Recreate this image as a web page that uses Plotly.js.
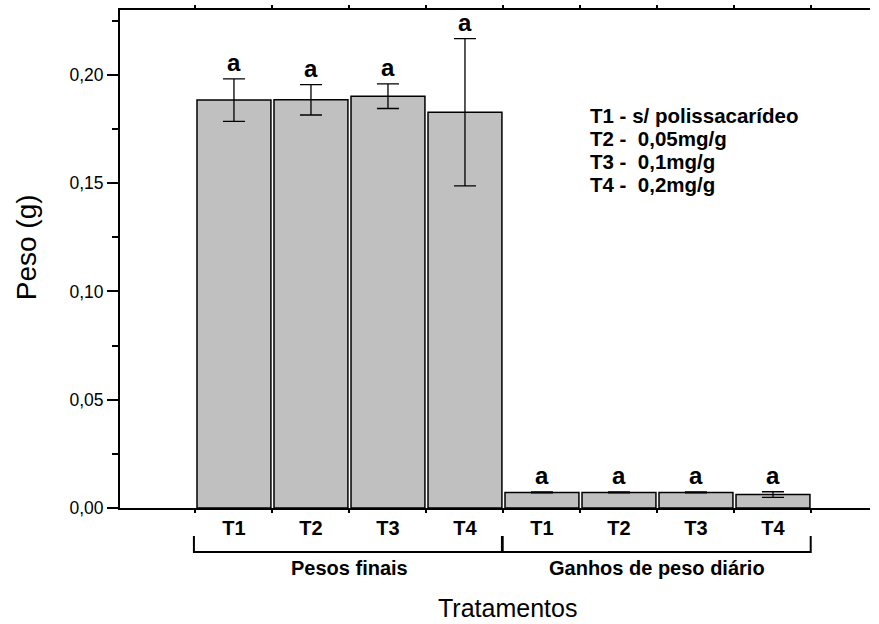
<!DOCTYPE html>
<html>
<head>
<meta charset="utf-8">
<script src="https://cdn.plot.ly/plotly-3.0.1.min.js"></script>
<style>html,body{margin:0;padding:0;background:#fff;}#chart{width:879px;height:624px;}</style>
</head>
<body>
<div id="chart"></div>
<script>
// ---- data ----
const treatments = ["T1", "T2", "T3", "T4", "T1", "T2", "T3", "T4"];
const groups = ["Pesos finais", "Ganhos de peso diário"];
const groupStart = [0, 4];
const groupEnd = [3, 7];
const values = [0.1884, 0.1885, 0.1902, 0.1828, 0.0072, 0.0072, 0.0072, 0.0062];
const errors = [0.0098, 0.0070, 0.0057, 0.0340, 0.0002, 0.0002, 0.0002, 0.0013];
const letters = ["a", "a", "a", "a", "a", "a", "a", "a"];
const legendLines = ["T1 - s/ polissacarídeo", "T2 -  0,05mg/g", "T3 -  0,1mg/g", "T4 -  0,2mg/g"];
const yTickVals = [0, 0.05, 0.10, 0.15, 0.20];

const FONT = "Liberation Sans, Arial, Helvetica, sans-serif";
const xs = treatments.map((_, i) => i);

const trace = {
  type: "bar",
  x: xs,
  y: values,
  width: 0.96,
  marker: {color: "#c0c0c0", line: {color: "#000", width: 1.5}},
  error_y: {type: "data", array: errors, visible: true, color: "#000", thickness: 1.3, width: 11},
  hoverinfo: "skip"
};

const annotations = [];
xs.forEach((x, i) => {
  annotations.push({
    x: x, y: values[i] + errors[i], xref: "x", yref: "y",
    text: letters[i], showarrow: false, yanchor: "bottom", yshift: 1,
    font: {family: FONT, size: 24, color: "#000", weight: "bold"}
  });
});
groups.forEach((g, k) => {
  annotations.push({
    x: (groupStart[k] + groupEnd[k]) / 2, y: -0.1205, xref: "x", yref: "paper",
    text: g, showarrow: false, yanchor: "middle",
    font: {family: FONT, size: 20, color: "#000", weight: "bold"}
  });
});
legendLines.forEach((t, k) => {
  annotations.push({
    x: 0.624, y: 0.789 - k * 0.0462, xref: "paper", yref: "paper",
    text: t.replace(/ /g, "\u00a0"), showarrow: false, xanchor: "left", yanchor: "middle",
    font: {family: FONT, size: 20.5, color: "#000", weight: "bold"}
  });
});
annotations.push({
  x: 0.516, y: -0.201, xref: "paper", yref: "paper", text: "Tratamentos",
  showarrow: false, yanchor: "middle", font: {family: FONT, size: 25, color: "#000"}
});
annotations.push({
  x: -0.125, y: 0.524, xref: "paper", yref: "paper", text: "Peso (g)", textangle: -90,
  showarrow: false, xanchor: "center", yanchor: "middle", font: {family: FONT, size: 28, color: "#000"}
});

const shapes = groups.map((g, k) => {
  const x0 = groupStart[k] - 0.52, x1 = groupEnd[k] + 0.49;
  return {
    type: "path", xref: "x", yref: "paper",
    path: `M ${x0},-0.0562 L ${x0},-0.0884 L ${x1},-0.0884 L ${x1},-0.0562`,
    line: {color: "#000", width: 2}
  };
});

const layout = {
  width: 879, height: 624,
  margin: {l: 120, r: 9, t: 10, b: 116},
  paper_bgcolor: "#fff", plot_bgcolor: "#fff",
  separators: ",.",
  showlegend: false,
  font: {family: FONT, color: "#000"},
  xaxis: {
    range: [-1.48, 8.26], showgrid: false, zeroline: false,
    showline: true, linecolor: "#000", linewidth: 2, mirror: "ticks",
    tickmode: "array", tickvals: xs, ticktext: treatments, ticks: "",
    tickfont: {family: FONT, size: 20, color: "#000", weight: "bold"},
    ticklabelstandoff: 1,
    minor: {tick0: 0.5, dtick: 1, ticks: "outside", ticklen: 3, tickwidth: 2, tickcolor: "#000"},
    fixedrange: true
  },
  yaxis: {
    range: [0, 0.23], showgrid: false, zeroline: false,
    showline: true, linecolor: "#000", linewidth: 2,
    tickmode: "array", tickvals: yTickVals, tickformat: ".2f",
    ticks: "outside", ticklen: 11, tickwidth: 2, tickcolor: "#000",
    tickfont: {family: FONT, size: 17.5, color: "#000"},
    minor: {dtick: 0.025, tick0: 0, ticks: "outside", ticklen: 6, tickwidth: 2, tickcolor: "#000"},
    fixedrange: true
  },
  annotations: annotations,
  shapes: shapes
};

Plotly.newPlot("chart", [trace], layout, {displayModeBar: false, staticPlot: true});
</script>
</body>
</html>
